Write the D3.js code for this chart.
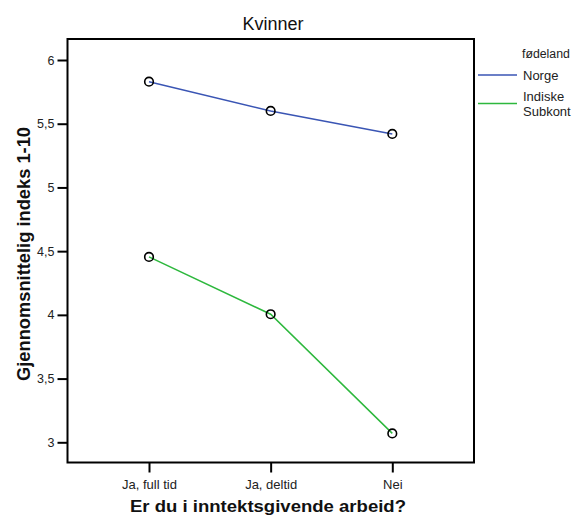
<!DOCTYPE html>
<html><head><meta charset="utf-8">
<script src="https://cdn.jsdelivr.net/npm/d3@7"></script>
<style>body{margin:0;background:#fff;} svg{display:block;font-family:"Liberation Sans",Arial,sans-serif;}</style>
</head><body>
<svg id="c" width="573" height="516"></svg>
<script>
const categories = ["Ja, full tid", "Ja, deltid", "Nei"];
const norge = [5.83, 5.60, 5.42];
const indiske = [4.455, 4.005, 3.07];
const yTicks = [3, 3.5, 4, 4.5, 5, 5.5, 6];
const seriesNames = ["Norge", "Indiske Subkont"];
const seriesColors = ["#3a55b4", "#2db83d"];

const svg = d3.select("#c");
const L = 67.5, R = 474, T = 39, B = 462.5;
const x = d3.scalePoint().domain(categories).range([149, 392.3]);
const y = d3.scaleLinear().domain([3, 6]).range([442.3, 60]);
const fmt = v => String(v).replace(".", ",");

// frame
svg.append("rect").attr("x", L).attr("y", T).attr("width", R - L).attr("height", B - T)
  .attr("fill", "none").attr("stroke", "#000").attr("stroke-width", 2);

// y axis
const yAxis = svg.append("g").attr("transform", `translate(${L},0)`)
  .call(d3.axisLeft(y).tickValues(yTicks).tickFormat(fmt).tickSize(10).tickPadding(3));
yAxis.select(".domain").remove();
yAxis.selectAll(".tick line").attr("stroke", "#000").attr("stroke-width", 2);
yAxis.selectAll(".tick text").attr("font-size", 12.5).attr("fill", "#222")
  .attr("font-family", "Liberation Sans, Arial, sans-serif");

// x axis
const xAxis = svg.append("g").attr("transform", `translate(0,${B})`)
  .call(d3.axisBottom(x).tickSize(10).tickPadding(7));
xAxis.select(".domain").remove();
xAxis.selectAll(".tick line").attr("stroke", "#000").attr("stroke-width", 2);
xAxis.selectAll(".tick text").attr("font-size", 13).attr("fill", "#222")
  .attr("font-family", "Liberation Sans, Arial, sans-serif");

// lines
const line = d3.line().x((d, i) => x(categories[i])).y(d => y(d));
[norge, indiske].forEach((s, k) => {
  svg.append("path").datum(s).attr("d", line).attr("fill", "none")
    .attr("stroke", seriesColors[k]).attr("stroke-width", 1.5);
});
[norge, indiske].forEach(s => {
  svg.selectAll(null).data(s).enter().append("circle")
    .attr("cx", (d, i) => x(categories[i])).attr("cy", d => y(d)).attr("r", 4.3)
    .attr("fill", "none").attr("stroke", "#000").attr("stroke-width", 1.6);
});

// title
svg.append("text").attr("x", 273).attr("y", 30).attr("text-anchor", "middle")
  .attr("font-size", 18).attr("fill", "#111").text("Kvinner");

// axis titles
svg.append("text").attr("x", 268).attr("y", 512).attr("text-anchor", "middle")
  .attr("font-size", 16.5).attr("font-weight", "bold").attr("fill", "#111")
  .attr("textLength", 276).attr("lengthAdjust", "spacingAndGlyphs")
  .text("Er du i inntektsgivende arbeid?");
svg.append("text").attr("transform", "translate(30,254) rotate(-90)").attr("text-anchor", "middle")
  .attr("font-size", 18.3).attr("font-weight", "bold").attr("fill", "#111")
  .text("Gjennomsnittelig indeks 1-10");

// legend
const lg = svg.append("g");
lg.append("text").attr("x", 522).attr("y", 58).attr("font-size", 12.3).attr("fill", "#222").text("fødeland");
lg.append("line").attr("x1", 478).attr("x2", 517).attr("y1", 75).attr("y2", 75)
  .attr("stroke", seriesColors[0]).attr("stroke-width", 1.5);
lg.append("text").attr("x", 523).attr("y", 80).attr("font-size", 13).attr("fill", "#222").text(seriesNames[0]);
lg.append("line").attr("x1", 478).attr("x2", 517).attr("y1", 103.5).attr("y2", 103.5)
  .attr("stroke", seriesColors[1]).attr("stroke-width", 1.5);
const t2 = lg.append("text").attr("font-size", 13).attr("fill", "#222");
const parts = seriesNames[1].split(" ");
t2.append("tspan").attr("x", 523).attr("y", 101).text(parts[0]);
t2.append("tspan").attr("x", 523).attr("y", 116).text(parts[1]);
</script>
</body></html>
